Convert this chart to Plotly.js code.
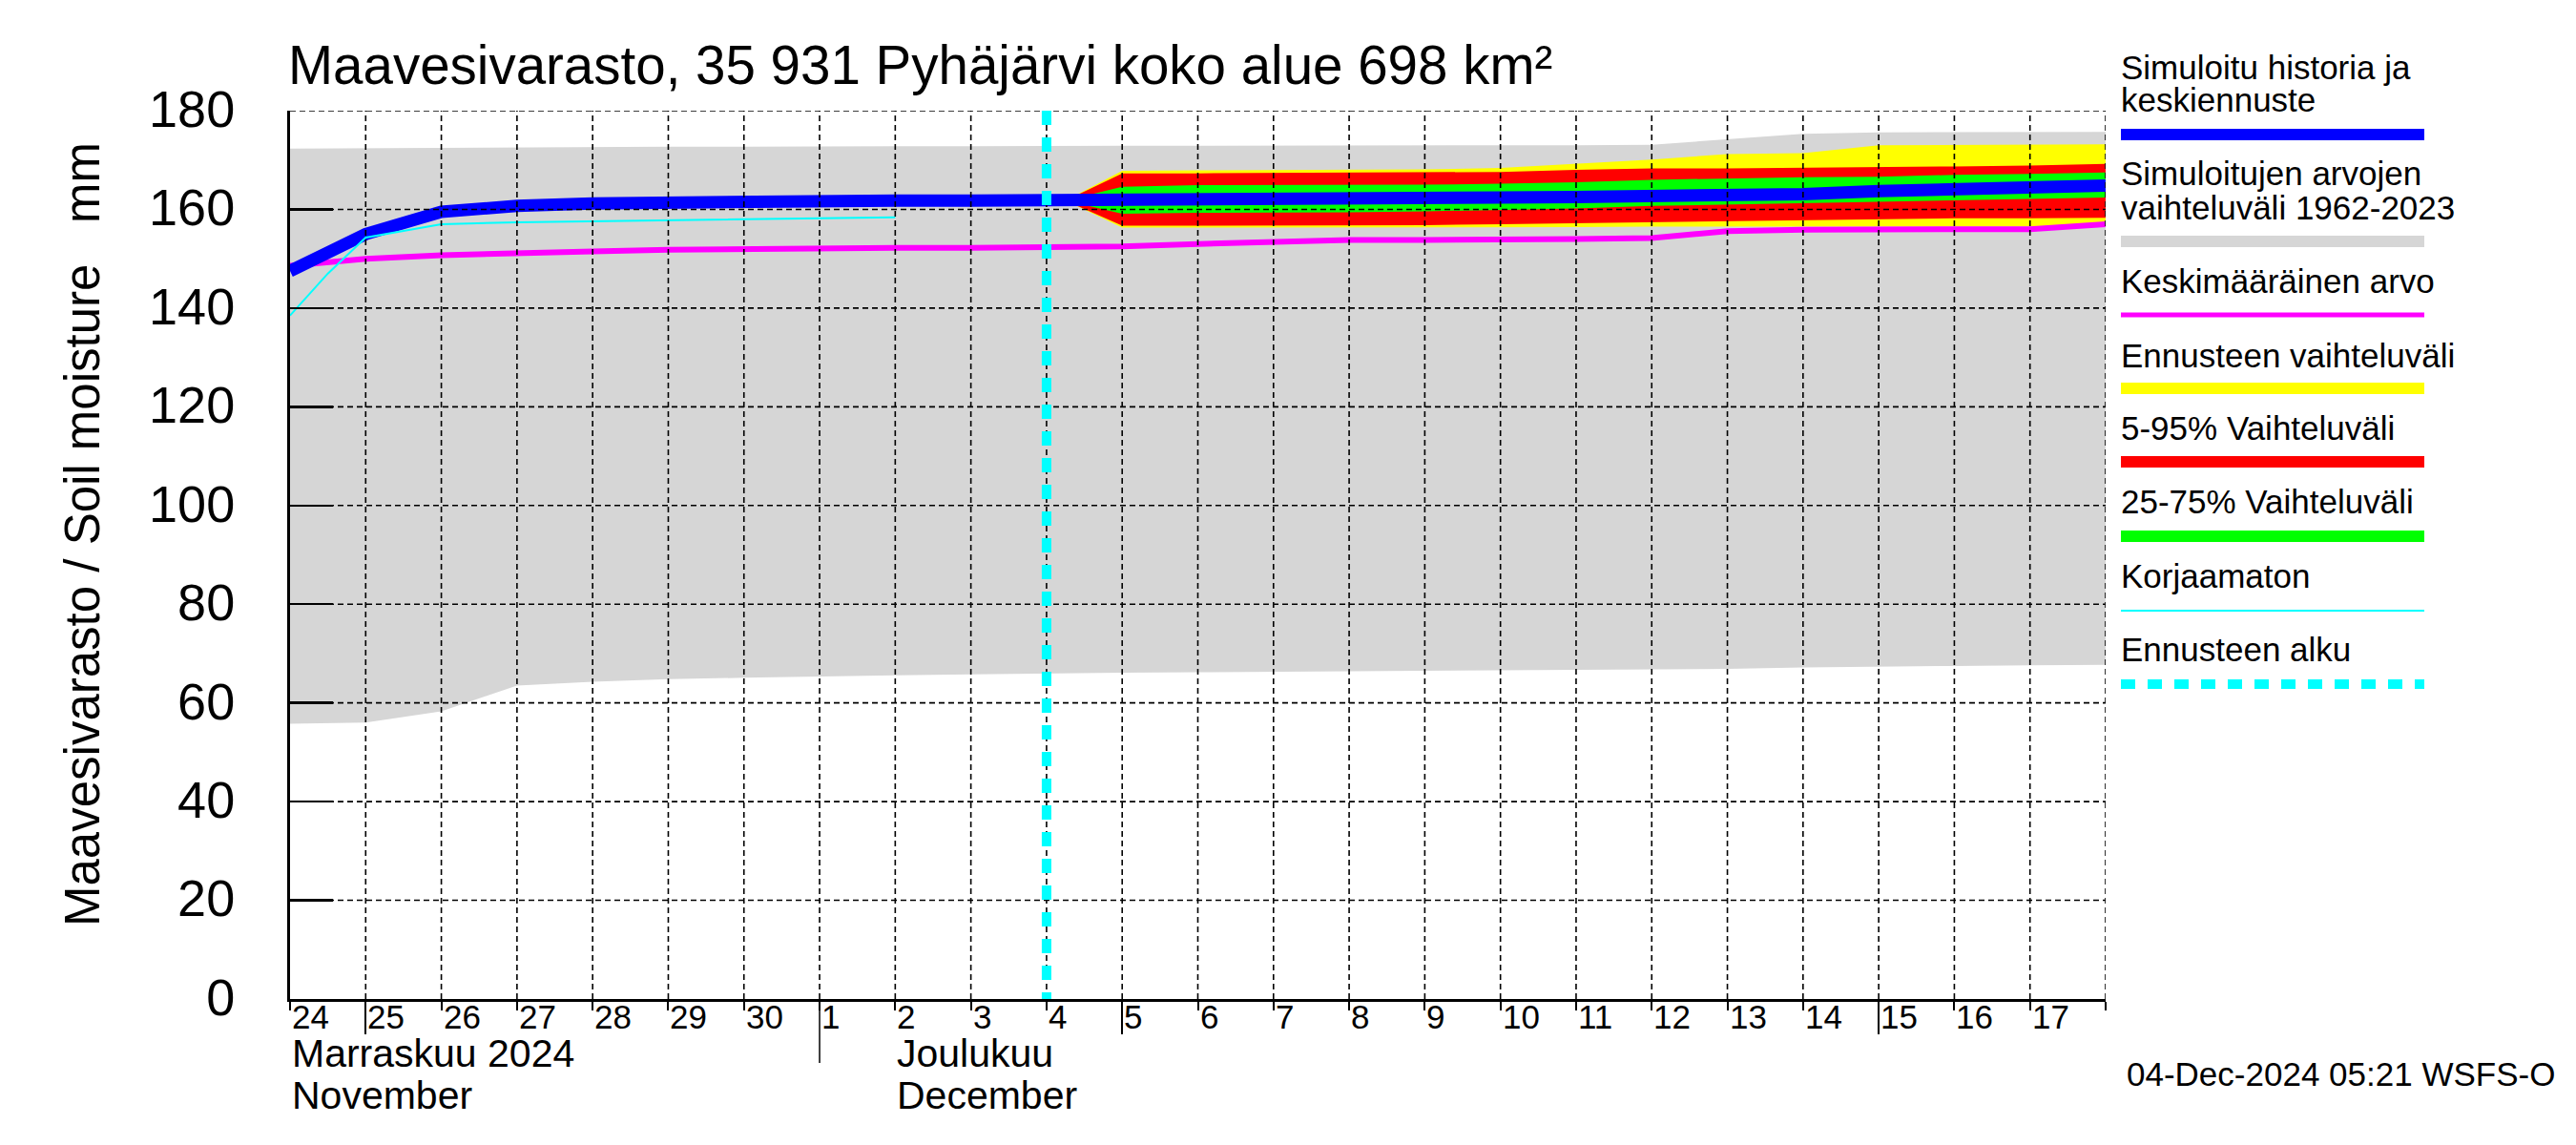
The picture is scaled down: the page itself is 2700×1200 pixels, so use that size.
<!DOCTYPE html>
<html>
<head>
<meta charset="utf-8">
<script src="https://cdn.plot.ly/plotly-3.0.1.min.js"></script>
<style>html,body{margin:0;padding:0;background:#ffffff;}</style>
</head>
<body>
<div id="chart" style="width:2700px;height:1200px;"></div>
<script>
// ---------------- DATA ----------------
const rangeDates = ['2024-11-24','2024-11-25','2024-11-26','2024-11-27','2024-11-28','2024-11-29','2024-11-30',
  '2024-12-01','2024-12-02','2024-12-03','2024-12-04','2024-12-05','2024-12-06','2024-12-07','2024-12-08',
  '2024-12-09','2024-12-10','2024-12-11','2024-12-12','2024-12-13','2024-12-14','2024-12-15','2024-12-16',
  '2024-12-17','2024-12-18'];
// Simulated range 1962-2023 (grey band)
const rangeMax = [172.3,172.4,172.5,172.5,172.6,172.7,172.7,172.8,172.8,172.8,172.9,172.9,172.9,172.9,173.0,
  173.0,173.0,173.0,173.1,174.2,175.3,175.6,175.6,175.7,175.7];
const rangeMin = [55.8,56.0,58.3,63.5,64.3,64.8,65.1,65.4,65.6,65.8,66.0,66.1,66.2,66.3,66.4,66.5,66.6,66.7,
  66.8,66.9,67.2,67.4,67.5,67.6,67.7];
// Mean value (magenta)
const meanValues = [148.6,150.0,150.7,151.2,151.5,151.8,152.0,152.1,152.2,152.2,152.3,152.5,153.0,153.5,153.8,
  153.8,153.8,154.0,154.2,155.6,155.9,155.9,155.9,156.0,157.0];
// Simulated history (blue)
const histDates = ['2024-11-24','2024-11-25','2024-11-26','2024-11-27','2024-11-28','2024-11-29','2024-11-30',
  '2024-12-01','2024-12-02','2024-12-03','2024-12-04','2024-12-04 06:00'];
const histSim = [147.5,155.0,159.5,160.7,161.2,161.5,161.6,161.7,161.8,161.8,161.8,161.8];
// Uncorrected (thin cyan)
const uncorrDates = ['2024-11-24','2024-11-24 12:00','2024-11-25','2024-11-26','2024-11-27','2024-11-28',
  '2024-11-29','2024-11-30','2024-12-01','2024-12-02'];
const uncorrValues = [138.5,147.0,154.3,157.0,157.4,157.6,157.8,158.0,158.2,158.4];
// Forecast
const fcDates = ['2024-12-04 06:00','2024-12-05','2024-12-06','2024-12-07','2024-12-08','2024-12-09','2024-12-10',
  '2024-12-11','2024-12-12','2024-12-13','2024-12-14','2024-12-15','2024-12-16','2024-12-17','2024-12-18'];
const fcMax    = [161.8,167.8,167.9,168.0,168.0,168.1,168.4,169.2,170.1,171.2,171.4,173.0,173.1,173.2,173.2];
const fcP95    = [161.8,167.3,167.3,167.4,167.4,167.5,167.6,168.0,168.3,168.3,168.4,168.5,168.7,168.9,169.2];
const fcP75    = [161.8,164.6,164.9,164.9,164.9,165.0,165.2,165.5,166.0,166.3,166.5,166.6,167.0,167.2,167.5];
const fcMedian = [161.8,161.8,161.8,162.0,162.1,162.3,162.4,162.5,162.6,162.9,163.1,163.7,164.2,164.5,164.8];
const fcP25    = [161.8,159.1,159.3,159.3,159.4,159.6,159.9,160.2,160.7,161.0,161.2,161.5,161.8,162.1,162.4];
const fcP5     = [161.8,156.7,156.7,156.7,156.7,156.8,157.0,157.2,157.4,157.7,157.8,158.0,158.2,158.2,158.3];
const fcMin    = [161.8,156.3,156.3,156.3,156.4,156.4,156.4,156.4,156.5,156.5,156.6,156.6,156.5,156.5,156.6];
const forecastStart = '2024-12-04';
// Axis / tick labels
const yTicks = [0,20,40,60,80,100,120,140,160,180];
const dayDates = rangeDates.slice(0,24);
const dayLabels = ['24','25','26','27','28','29','30','1','2','3','4','5','6','7','8','9','10','11','12','13','14','15','16','17'];
const longTickDates = ['2024-11-25','2024-12-05','2024-12-15'];
const monthStarts = ['2024-12-01'];
const monthLabelDates = ['2024-11-24','2024-12-02'];
const monthLabelsFi = ['Marraskuu 2024','Joulukuu'];
const monthLabelsEn = ['November','December'];
const titleText = 'Maavesivarasto, 35 931 Pyhäjärvi koko alue 698 km²';
const yTitleText = 'Maavesivarasto / Soil moisture\u00a0\u00a0\u00a0mm';
const stampText = '04-Dec-2024 05:21 WSFS-O';
const legendLabels = [['Simuloitu historia ja','keskiennuste'],['Simuloitujen arvojen','vaihteluväli 1962-2023'],
  ['Keskimääräinen arvo'],['Ennusteen vaihteluväli'],['5-95% Vaihteluväli'],['25-75% Vaihteluväli'],
  ['Korjaamaton'],['Ennusteen alku']];

// ---------------- STYLE / GEOMETRY ----------------
const W=2700,H=1200,L=304,R=2207,T=116,B=1047;
const px = X => (X-L)/(R-L);
const py = Y => (B-Y)/(B-T);
const FONT = 'Liberation Sans, Arial, Helvetica, sans-serif';
const C = {grey:'#d6d6d6', yellow:'#ffff00', red:'#ff0000', green:'#00ff00', blue:'#0000ff', mag:'#ff00ff', cyan:'#00ffff'};
const legendStyle = [
  {base:[84,118], lineY:141, color:C.blue, w:12},
  {base:[195,231], lineY:253, color:C.grey, w:12},
  {base:[308], lineY:330, color:C.mag, w:5},
  {base:[386], lineY:407, color:C.yellow, w:12},
  {base:[462], lineY:484, color:C.red, w:12},
  {base:[539], lineY:562, color:C.green, w:12},
  {base:[617], lineY:640, color:C.cyan, w:2},
  {base:[694], lineY:717, color:C.cyan, w:10, dash:'15px,13px'}
];

function band(x, top, bot, color){
  return [
    {x:x, y:top, type:'scatter', mode:'lines', line:{width:0, color:color}, hoverinfo:'skip', showlegend:false},
    {x:x, y:bot, type:'scatter', mode:'lines', line:{width:0, color:color}, fill:'tonexty', fillcolor:color, hoverinfo:'skip', showlegend:false}
  ];
}

const traces = [].concat(
  band(rangeDates, rangeMax, rangeMin, C.grey),
  band(fcDates, fcMax, fcMin, C.yellow),
  band(fcDates, fcP95, fcP5, C.red),
  band(fcDates, fcP75, fcP25, C.green),
  [
    {x:rangeDates, y:meanValues, type:'scatter', mode:'lines', line:{width:6, color:C.mag}, hoverinfo:'skip', showlegend:false},
    {x:histDates.concat(fcDates.slice(1)), y:histSim.concat(fcMedian.slice(1)), type:'scatter', mode:'lines',
      line:{width:13, color:C.blue}, hoverinfo:'skip', showlegend:false},
    {x:uncorrDates, y:uncorrValues, type:'scatter', mode:'lines', line:{width:2, color:C.cyan}, hoverinfo:'skip', showlegend:false}
  ]
);

const shapes = [];
// vertical dashed grid
rangeDates.slice(1).forEach(d => shapes.push({type:'line', xref:'x', yref:'paper', x0:d, x1:d, y0:0, y1:1,
  line:{color:'black', width:1.6, dash:'6px,4px'}, layer:'above'}));
// horizontal dashed grid
yTicks.slice(1).forEach(v => shapes.push({type:'line', xref:'paper', yref:'y', x0:0, x1:1, y0:v, y1:v,
  line:{color:'black', width:1.6, dash:'6px,4px'}, layer:'above'}));
// forecast start
shapes.push({type:'line', xref:'x', yref:'y', x0:forecastStart, x1:forecastStart, y0:180, y1:0,
  line:{color:C.cyan, width:10, dash:'15px,13px'}, layer:'above'});
// month separator
monthStarts.forEach(d => shapes.push({type:'line', xref:'x', yref:'paper', x0:d, x1:d, y0:0, y1:py(1114),
  line:{color:'black', width:1.5}, layer:'above'}));
// legend lines
legendStyle.forEach(s => shapes.push({type:'line', xref:'paper', yref:'paper', x0:px(2223), x1:px(2541),
  y0:py(s.lineY), y1:py(s.lineY), line:{color:s.color, width:s.w, dash:s.dash||'solid'}, layer:'above'}));

const annotations = [];
function txt(x, xref, baseline, size, text, xanchor, extra){
  return Object.assign({x:x, xref:xref, y:py(baseline + 0.212*size), yref:'paper', yanchor:'bottom', xanchor:xanchor||'left',
    text:text, showarrow:false, borderpad:0, font:{family:FONT, size:size, color:'black'}}, extra||{});
}
dayDates.forEach((d,i) => annotations.push(txt(d, 'x', 1079, 35, dayLabels[i], 'left', {xshift:1})));
monthLabelDates.forEach((d,i) => {
  annotations.push(txt(d, 'x', 1119, 41, monthLabelsFi[i], 'left', {xshift:1}));
  annotations.push(txt(d, 'x', 1163, 41, monthLabelsEn[i], 'left', {xshift:1}));
});
legendLabels.forEach((lines,i) => lines.forEach((t,j) =>
  annotations.push(txt(px(2222), 'paper', legendStyle[i].base[j], 35, t, 'left'))));
annotations.push(txt(px(2679), 'paper', 1139, 35, stampText, 'right'));
annotations.push({x:px(86), xref:'paper', y:py(560), yref:'paper', xanchor:'center', yanchor:'middle', textangle:-90,
  text:yTitleText, showarrow:false, borderpad:0, font:{family:FONT, size:51, color:'black'}});

const layout = {
  width:W, height:H,
  margin:{l:L, r:W-R, t:T, b:H-B, pad:0},
  paper_bgcolor:'#ffffff', plot_bgcolor:'#ffffff',
  font:{family:FONT, color:'black'},
  showlegend:false,
  title:{text:titleText, font:{family:FONT, size:56.5, color:'black'}, xref:'container', yref:'container',
    x:302/W, xanchor:'left', y:1-88/H, yanchor:'bottom', pad:{t:0,b:0,l:0,r:0}},
  xaxis:{type:'date', range:['2024-11-24','2024-12-18'], showgrid:false, zeroline:false, showline:true,
    linecolor:'black', linewidth:3, ticks:'outside', tickmode:'array', tickvals:longTickDates, ticklen:34,
    tickwidth:2, tickcolor:'black', showticklabels:false, layer:'above traces', fixedrange:true,
    minor:{dtick:86400000, tick0:'2024-11-24', ticks:'outside', ticklen:9, tickwidth:2, tickcolor:'black', showgrid:false}},
  yaxis:{range:[0,180], tickmode:'array', tickvals:yTicks, ticks:'inside', ticklen:45, tickwidth:2.5,
    tickcolor:'black', showline:true, linewidth:3, linecolor:'black', showgrid:false, zeroline:false,
    tickfont:{family:FONT, size:54, color:'black'}, ticklabelstandoff:44, ticklabelshift:-2,
    layer:'above traces', fixedrange:true},
  shapes:shapes,
  annotations:annotations
};

Plotly.newPlot('chart', traces, layout, {staticPlot:true, displayModeBar:false});
</script>
</body>
</html>
